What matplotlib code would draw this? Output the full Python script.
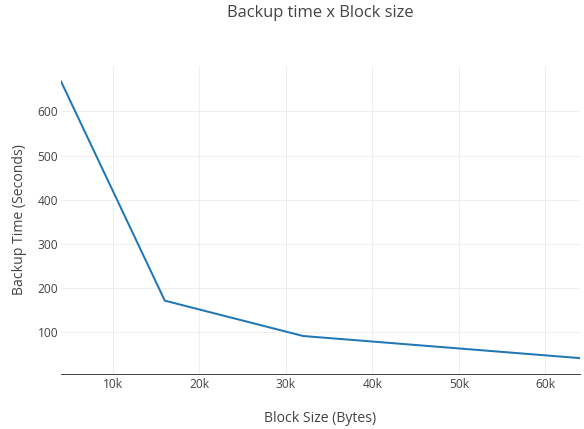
import matplotlib
matplotlib.use("Agg")
import matplotlib.pyplot as plt
from matplotlib.ticker import FuncFormatter, FixedLocator

block_size = [4000, 16000, 32000, 64000]
backup_time = [668, 172, 92, 42]
x_ticks = [10000, 20000, 30000, 40000, 50000, 60000]
y_ticks = [100, 200, 300, 400, 500, 600]

plt.rcParams['font.family'] = ['Open Sans', 'DejaVu Sans']
px = 0.72  # points per pixel at dpi 100
W, H = 584, 429

fig = plt.figure(figsize=(5.84, 4.29), dpi=100)
ax = fig.add_axes([61/W, (H-373.5)/H, (580-61)/W, (373.5-66)/H])

ax.plot(block_size, backup_time, color='#1f77b4', lw=2*px, solid_joinstyle='round')

ax.set_xlim(min(block_size), max(block_size))
rng = max(backup_time) - min(backup_time)
pad = rng / 0.9 * 0.05
ax.set_ylim(min(backup_time) - pad, max(backup_time) + pad)

ax.xaxis.set_major_locator(FixedLocator(x_ticks))
ax.yaxis.set_major_locator(FixedLocator(y_ticks))
ax.xaxis.set_major_formatter(FuncFormatter(lambda v, p: f"{int(v/1000)}k"))
ax.grid(True, color='#eeeeee', lw=1*px)
ax.set_axisbelow(True)
for s in ['top', 'right', 'left']:
    ax.spines[s].set_visible(False)
ax.spines['bottom'].set_color('#444444')
ax.spines['bottom'].set_linewidth(1*px)
ax.tick_params(length=0, labelsize=12*px, labelcolor='#444444')
ax.tick_params(axis='x', pad=3)
ax.tick_params(axis='y', pad=2)

cx = (61 + 580) / 2 / W
fig.text(cx, 1 - 418/H, 'Block Size (Bytes)', ha='center', va='center',
         fontsize=14*px, color='#444444')
fig.text(20/W, 1 - 220/H, 'Backup Time (Seconds)', ha='center', va='center',
         rotation=90, fontsize=14*px, color='#444444')
fig.text(cx, 1 - 13/H, 'Backup time x Block size', ha='center', va='center',
         fontsize=16.5*px, color='#444444')

fig.savefig('out.png', dpi=100, facecolor='white')
